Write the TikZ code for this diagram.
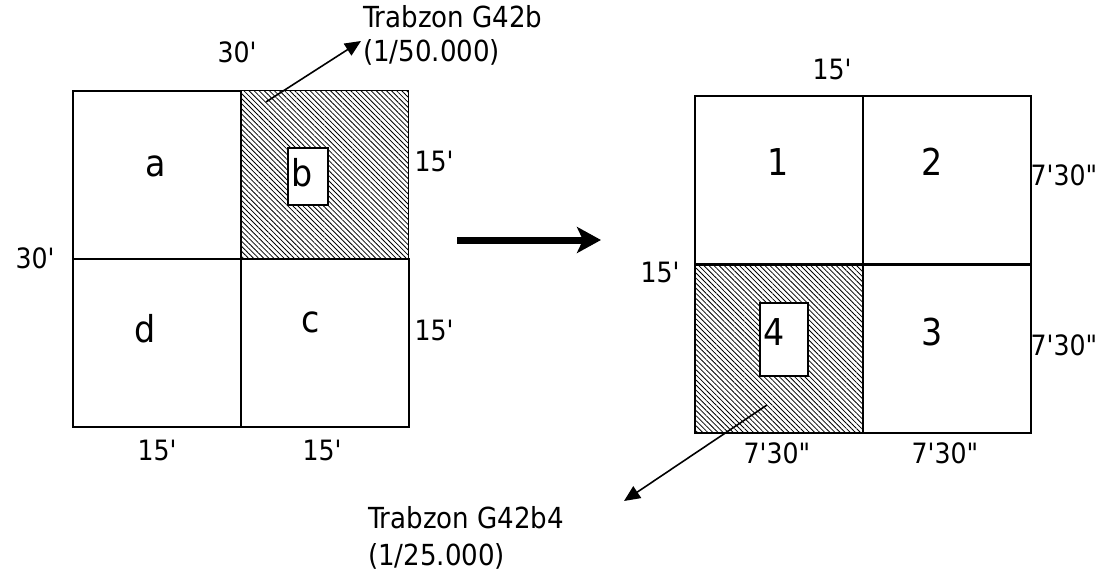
\documentclass[tikz,border=0pt]{standalone}
\usepackage{fontspec}
\setmainfont{DejaVu Sans Condensed}[Ligatures=TeXOff]
\usetikzlibrary{patterns.meta,arrows.meta}
\tikzset{
  cell/.style={draw,line width=1.6pt,minimum width=168pt,minimum height=168pt,inner sep=0pt},
  hatched/.style={pattern={Lines[angle=-45,distance=3.6pt,line width=0.8pt]}},
  tag/.style={draw,line width=1.4pt,fill=white,inner sep=0pt},
  mlbl/.style={font=\fontsize{28}{32}\selectfont,inner sep=0pt,anchor=base},
  clbl/.style={font=\fontsize{37}{40}\selectfont,inner sep=0pt,anchor=base},
  nlbl/.style={font=\fontsize{29}{32}\selectfont,inner sep=0pt,anchor=base west},
  pointer/.style={line width=1.6pt,-{Triangle[length=16pt,width=14pt]}},
}
\begin{document}
\begin{tikzpicture}[x=1pt,y=-1pt]
\useasboundingbox (0,0) rectangle (1100,580);
% left sheet: four 15' cells
\node[cell,anchor=north west] (a) at (72,90) {};
\node[cell,hatched,anchor=north west] (b) at (240,90) {};
\node[cell,anchor=north west] (d) at (72,258) {};
\node[cell,anchor=north west] (c) at (240,258) {};
\node[tag,minimum width=40pt,minimum height=57pt] (btag) at (308,176.5) {};
\node[clbl] at (155.5,177) {a};
\node[clbl] at (302.5,187) {b};
\node[clbl] at (145,342) {d};
\node[clbl] at (311,332) {c};
\node[mlbl] at (237,63) {30'};
\node[mlbl] at (35,268) {30'};
\node[mlbl] at (434,172) {15'};
\node[mlbl] at (434,340) {15'};
\node[mlbl] at (157,460) {15'};
\node[mlbl] at (322,460) {15'};
% right sheet: four 7'30" cells
\node[cell,anchor=north west] (s1) at (694,95) {};
\node[cell,anchor=north west] (s2) at (862,95) {};
\node[cell,hatched,anchor=north west] (s4) at (694,264) {};
\node[cell,anchor=north west] (s3) at (862,264) {};
\node[tag,minimum width=48pt,minimum height=73pt] (tag4) at (784,339.5) {};
\node[clbl] at (778,176) {1};
\node[clbl] at (932,176) {2};
\node[clbl] at (774,345) {4};
\node[clbl] at (932,345) {3};
\node[mlbl] at (832,80) {15'};
\node[mlbl] at (660,282) {15'};
\node[mlbl] at (1064,186) {7'30"};
\node[mlbl] at (1064,355) {7'30"};
\node[mlbl] at (777,463) {7'30"};
\node[mlbl] at (945,463) {7'30"};
% sheet names
\node[nlbl] (nameb) at (363,28) {Trabzon G42b};
\node[nlbl] (nameb2) at (363,62) {(1/50.000)};
\node[nlbl] (name4) at (368,528) {Trabzon G42b4};
\node[nlbl] (name42) at (368,565) {(1/25.000)};
% pointers
\coordinate (pb) at (266,102);
\coordinate (tb) at (361,41);
\coordinate (p4) at (767,405);
\coordinate (t4) at (624,501);
\draw[pointer] (pb) -- (tb);
\draw[pointer] (p4) -- (t4);
% big arrow between sheets
\coordinate (ga) at (457,240);
\coordinate (gb) at (601,240);
\draw[line width=7pt,-{Stealth[length=24pt,width=26pt,inset=6pt]}] (ga) -- (gb);
\end{tikzpicture}
\end{document}
